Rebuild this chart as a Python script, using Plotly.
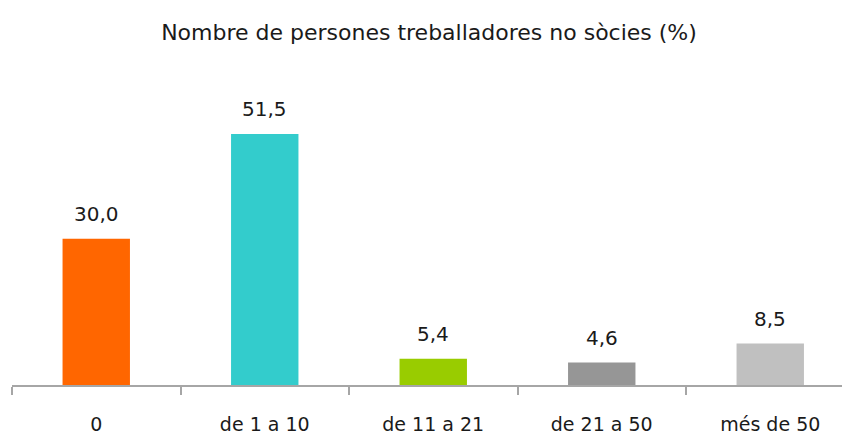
import plotly.graph_objects as go

categories = ['0', 'de 1 a 10', 'de 11 a 21', 'de 21 a 50', 'més de 50']
values = [30.0, 51.5, 5.4, 4.6, 8.5]
colors = ['#FF6600', '#33CCCC', '#99CC00', '#969696', '#C0C0C0']
title = 'Nombre de persones treballadores no sòcies (%)'

font_family = 'DejaVu Sans, sans-serif'
text_color = '#1a1a1a'

fig = go.Figure()
fig.add_trace(go.Bar(
    x=categories,
    y=values,
    marker=dict(color=colors, line=dict(width=0)),
    width=0.4,
    hoverinfo='skip'
))

# value labels with decimal comma
for cat, val in zip(categories, values):
    fig.add_annotation(
        x=cat, y=val,
        text=f'{val:.1f}'.replace('.', ','),
        showarrow=False,
        yanchor='middle',
        yshift=25,
        font=dict(size=20, color=text_color, family=font_family)
    )

# page body has an 8px margin, so the figure is sized to fit inside the window
fig.update_layout(
    title=dict(
        text=title,
        x=0.5, xanchor='center',
        y=1 - 24 / 427, yanchor='middle',
        font=dict(size=22, color=text_color, family=font_family)
    ),
    width=842,
    height=427,
    margin=dict(l=4, r=0, t=52, b=50),
    plot_bgcolor='white',
    paper_bgcolor='white',
    showlegend=False,
    font=dict(family=font_family, size=19, color=text_color),
    xaxis=dict(
        type='category',
        range=[-0.5, -0.5 + 838 / 168.5],
        showline=True,
        linecolor='#A6A6A6',
        linewidth=1.5,
        ticks='outside',
        tickson='boundaries',
        ticklen=8,
        tickwidth=1.5,
        tickcolor='#A6A6A6',
        ticklabelstandoff=21,
        showgrid=False,
        zeroline=False,
        tickfont=dict(size=19, color=text_color, family=font_family)
    ),
    yaxis=dict(
        range=[0, 325 / 4.874],
        visible=False,
        showgrid=False,
        zeroline=False
    )
)

fig.write_html('out.html')
